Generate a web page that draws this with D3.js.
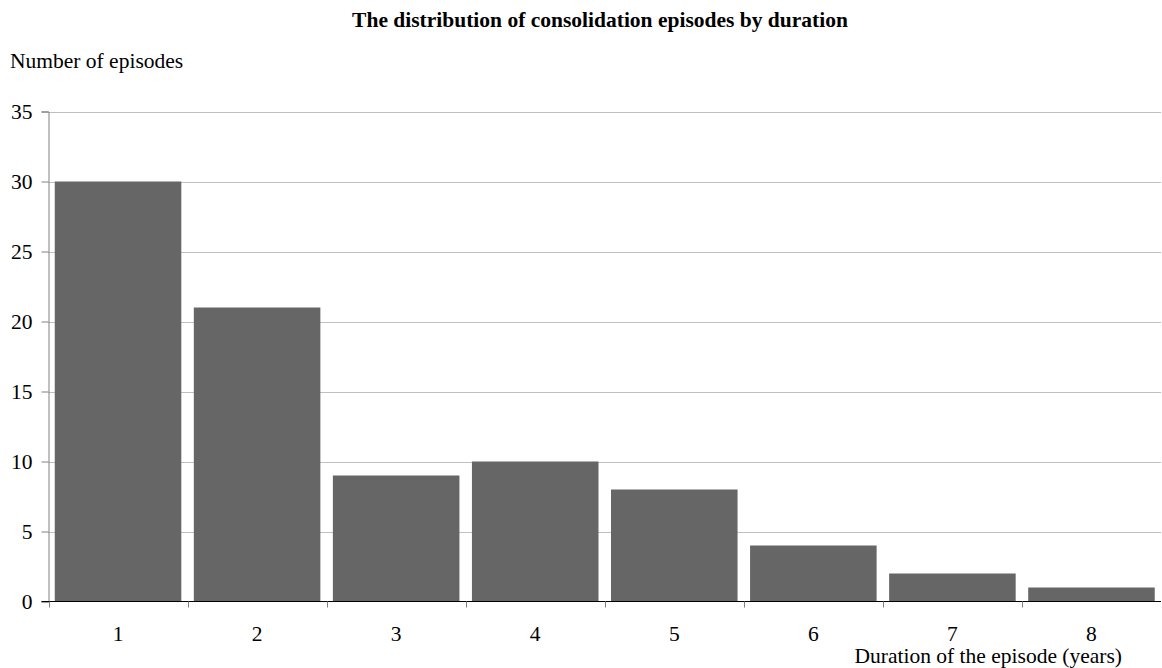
<!DOCTYPE html>
<html><head><meta charset="utf-8">
<script src="https://cdn.jsdelivr.net/npm/d3@7"></script>
<style>body{margin:0;background:#fff}svg{display:block}text{font-family:"Liberation Serif","Times New Roman",serif;fill:#000}</style>
</head><body><svg id="c" width="1162" height="668"></svg>
<script>
const categories = ["1","2","3","4","5","6","7","8"];
const values = [30, 21, 9, 10, 8, 4, 2, 1];
const yTicks = [0,5,10,15,20,25,30,35];
const title = "The distribution of consolidation episodes by duration";
const yLabel = "Number of episodes";
const xLabel = "Duration of the episode (years)";

const FS = "21.5px";
const svg = d3.select("#c");
const mLeft = 48.5, mRight = 1161, mTop = 111.5, mBottom = 601.5;
const x = d3.scaleBand().domain(categories).range([mLeft, mRight]).paddingInner(0.09).paddingOuter(0.045);
const xb = d3.scaleBand().domain(categories).range([mLeft, mRight]);
const y = d3.scaleLinear().domain([0,35]).range([mBottom, mTop]);

// gridlines
svg.append("g").selectAll("line").data(yTicks.filter(d=>d>0)).join("line")
  .attr("x1", mLeft).attr("x2", mRight).attr("y1", d=>Math.round(y(d))+0.5).attr("y2", d=>Math.round(y(d))+0.5)
  .attr("stroke","#c0c0c0").attr("stroke-width",1);

// bars
svg.append("g").selectAll("rect").data(values).join("rect")
  .attr("x",(d,i)=>x(categories[i])).attr("width",x.bandwidth())
  .attr("y",d=>y(d)).attr("height",d=>y(0)-y(d)).attr("fill","#666666");

// y axis
const ya = svg.append("g").attr("transform",`translate(${mLeft},0)`)
  .call(d3.axisLeft(y).tickValues(yTicks).tickSize(7).tickPadding(9));
ya.select(".domain").attr("stroke","#808080");
ya.selectAll(".tick line").attr("stroke","#808080");
ya.selectAll("text").style("font-size",FS).style("font-family",'"Liberation Serif",serif');

// x axis
const xa = svg.append("g").attr("transform",`translate(0,${mBottom})`);
xa.append("line").attr("x1",mLeft-7).attr("x2",mRight).attr("y1",0).attr("y2",0).attr("stroke","#000");
xa.selectAll("line.t").data(categories).join("line").attr("class","t")
  .attr("x1",d=>Math.round(xb(d))+0.5).attr("x2",d=>Math.round(xb(d))+0.5).attr("y1",0).attr("y2",6).attr("stroke","#808080");
xa.selectAll("text").data(categories).join("text")
  .attr("x",d=>xb(d)+xb.bandwidth()/2).attr("y",39).attr("text-anchor","middle")
  .style("font-size",FS).text(d=>d);

svg.append("text").attr("x",600).attr("y",27).attr("text-anchor","middle")
  .style("font-size",FS).style("font-weight","bold").text(title);
svg.append("text").attr("x",10).attr("y",68).style("font-size",FS).text(yLabel);
svg.append("text").attr("x",1122).attr("y",663).attr("text-anchor","end").style("font-size",FS).text(xLabel);
</script></body></html>
